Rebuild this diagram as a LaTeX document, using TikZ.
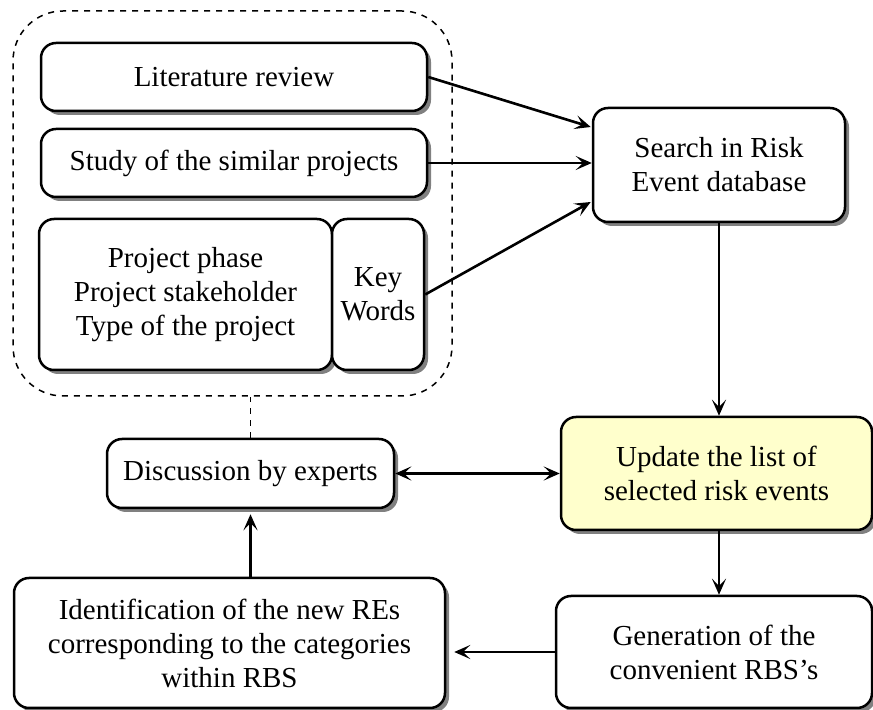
\documentclass[tikz,border=0pt]{standalone}
\usepackage{fontspec}
\setmainfont{Liberation Serif}
\usetikzlibrary{arrows.meta,shadows,calc}
\definecolor{paleyellow}{RGB}{255,255,204}
\begin{document}
\begin{tikzpicture}[x=0.5pt,y=-0.5pt,
  box/.style={draw, line width=1.25pt, rounded corners=7.5pt, fill=white, align=center,
    inner sep=0pt, font=\fontsize{14.5}{17}\selectfont,
    drop shadow={shadow xshift=2pt, shadow yshift=-2pt, fill=black!50, opacity=1}},
  tip/.tip={Stealth[length=8pt,width=7pt,inset=3.6pt]},
  arr/.style={line width=1.3pt, -tip},
  dbl/.style={line width=1.3pt, tip-tip},
  group/.style={draw, dashed, line width=0.75pt, rounded corners=25pt, inner sep=0pt},
  ]
\useasboundingbox (0,0) rectangle (873,710);

\node[group, minimum width=219.5pt, minimum height=192.5pt] (cont) at (232.5,203.5) {};

\node[box, minimum width=193pt, minimum height=34pt] (lit) at (234,77) {Literature review};
\node[box, minimum width=193pt, minimum height=34pt] (study) at (234,163) {Study of the similar projects};
\node[box, minimum width=146.5pt, minimum height=75.5pt] (proj) at (185.5,294.5) {Project phase\\Project stakeholder\\Type of the project};
\node[box, minimum width=46pt, minimum height=75.5pt] (key) at (378,294.5) {Key\\Words};

\node[box, minimum width=126pt, minimum height=57pt] (search) at (719,165) {Search in Risk\\Event database};
\node[box, minimum width=143.5pt, minimum height=34.5pt] (disc) at (250.5,473.5) {Discussion by experts};
\node[box, fill=paleyellow, minimum width=155.5pt, minimum height=56.5pt] (update) at (716.5,473.5) {Update the list of\\selected risk events};
\node[box, minimum width=158pt, minimum height=56pt] (gen) at (714,652) {Generation of the\\convenient RBS’s};
\node[box, minimum width=215.5pt, minimum height=65pt] (ident) at (229.5,643) {Identification of the new REs\\corresponding to the categories\\within RBS};

\coordinate (sA) at ($(search.west)+(-1,-38)$);
\coordinate (sC) at ($(search.west)+(-1,37)$);

\draw[arr] (lit.east) -- (sA);
\draw[arr] (study.east) -- (study.east -| search.west);
\draw[arr] (key.east) -- (sC);

\draw[arr] (search.south) -- (search.south |- update.north);
\draw[arr] (search.south |- update.south) -- (search.south |- gen.north);
\draw[dbl] (disc.east) -- (update.west);
\draw[arr] (gen.west) -- ($(ident.east)+(8,9)$);
\draw[arr] (disc.south |- ident.north) -- ($(disc.south)+(0,5)$);
\draw[dashed, line width=0.75pt] (disc.north) -- (disc.north |- cont.south);
\end{tikzpicture}
\end{document}
